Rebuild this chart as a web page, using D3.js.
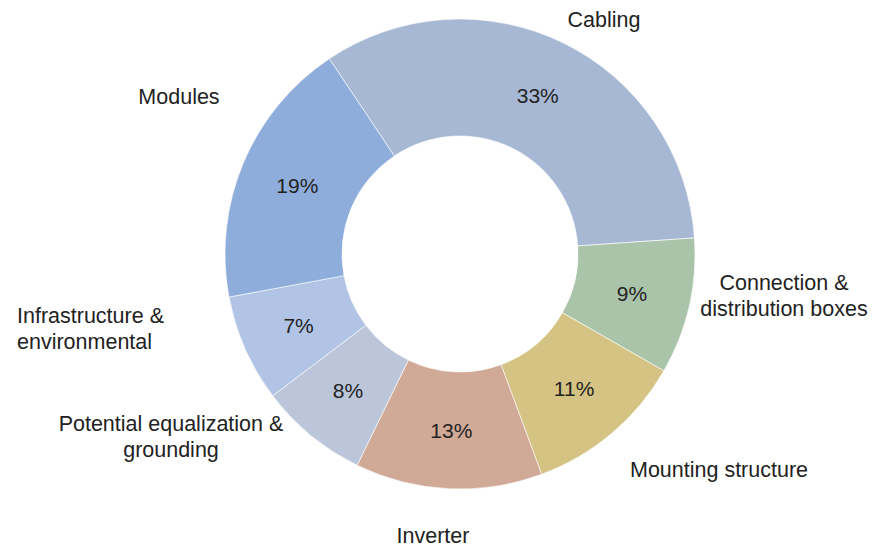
<!DOCTYPE html>
<html>
<head>
<meta charset="utf-8">
<script src="https://cdn.jsdelivr.net/npm/d3@7"></script>
<style>
  body { margin: 0; background: #fff; }
  text { font-family: "Liberation Sans", Arial, sans-serif; fill: #222; }
</style>
</head>
<body>
<script>
// data (clockwise from the top-left edge of Cabling)
var categories = ['Cabling', 'Connection & distribution boxes', 'Mounting structure', 'Inverter',
  'Potential equalization & grounding', 'Infrastructure & environmental', 'Modules'];
var shares = [33.4, 9.4, 11.1, 12.9, 7.5, 7.4, 18.6];
var colors = ['#a7b8d5', '#aac4aa', '#d5c383', '#d1a997', '#bcc6da', '#b1c4e5', '#8eaddb'];

// category label lines and where they sit
var labelLines = [['Cabling'], ['Connection &', 'distribution boxes'], ['Mounting structure'], ['Inverter'],
  ['Potential equalization &', 'grounding'], ['Infrastructure &', 'environmental'], ['Modules']];
var labelAt = [
  {x: 604, y: 27, anchor: 'middle'},
  {x: 784, y: 290, anchor: 'middle'},
  {x: 719, y: 477, anchor: 'middle'},
  {x: 433, y: 543, anchor: 'middle'},
  {x: 171, y: 431, anchor: 'middle'},
  {x: 17, y: 323, anchor: 'start'},
  {x: 179, y: 104, anchor: 'middle'}
];

var width = 876, height = 547;
var cx = 460, cy = 254, outerR = 235, innerR = 118;
var startDeg = -33.8;
var lineH = 26;

var svg = d3.select('body').append('svg').attr('width', width).attr('height', height);

var pie = d3.pie().sort(null).value(function(d) { return d; })
  .startAngle(startDeg * Math.PI / 180).endAngle((startDeg + 360) * Math.PI / 180);
var arc = d3.arc().innerRadius(innerR).outerRadius(outerR);
var arcs = pie(shares);

var g = svg.append('g').attr('transform', 'translate(' + cx + ',' + cy + ')');

g.selectAll('path').data(arcs).enter().append('path')
  .attr('d', arc)
  .attr('fill', function(d, i) { return colors[i]; })
  .attr('stroke', '#ffffff').attr('stroke-opacity', 0.6).attr('stroke-width', 1);

g.selectAll('text.pct').data(arcs).enter().append('text')
  .attr('class', 'pct')
  .attr('transform', function(d) { return 'translate(' + arc.centroid(d) + ')'; })
  .attr('dy', '0.36em')
  .attr('text-anchor', 'middle')
  .style('font-size', '21px')
  .text(function(d) { return Math.round(d.data) + '%'; });

var lab = svg.selectAll('text.cat').data(categories).enter().append('text')
  .attr('class', 'cat')
  .attr('x', function(d, i) { return labelAt[i].x; })
  .attr('y', function(d, i) { return labelAt[i].y; })
  .attr('text-anchor', function(d, i) { return labelAt[i].anchor; })
  .style('font-size', '21.5px');

lab.each(function(d, i) {
  var t = d3.select(this);
  labelLines[i].forEach(function(line, j) {
    t.append('tspan').attr('x', labelAt[i].x).attr('dy', j === 0 ? 0 : lineH).text(line);
  });
});
</script>
</body>
</html>
